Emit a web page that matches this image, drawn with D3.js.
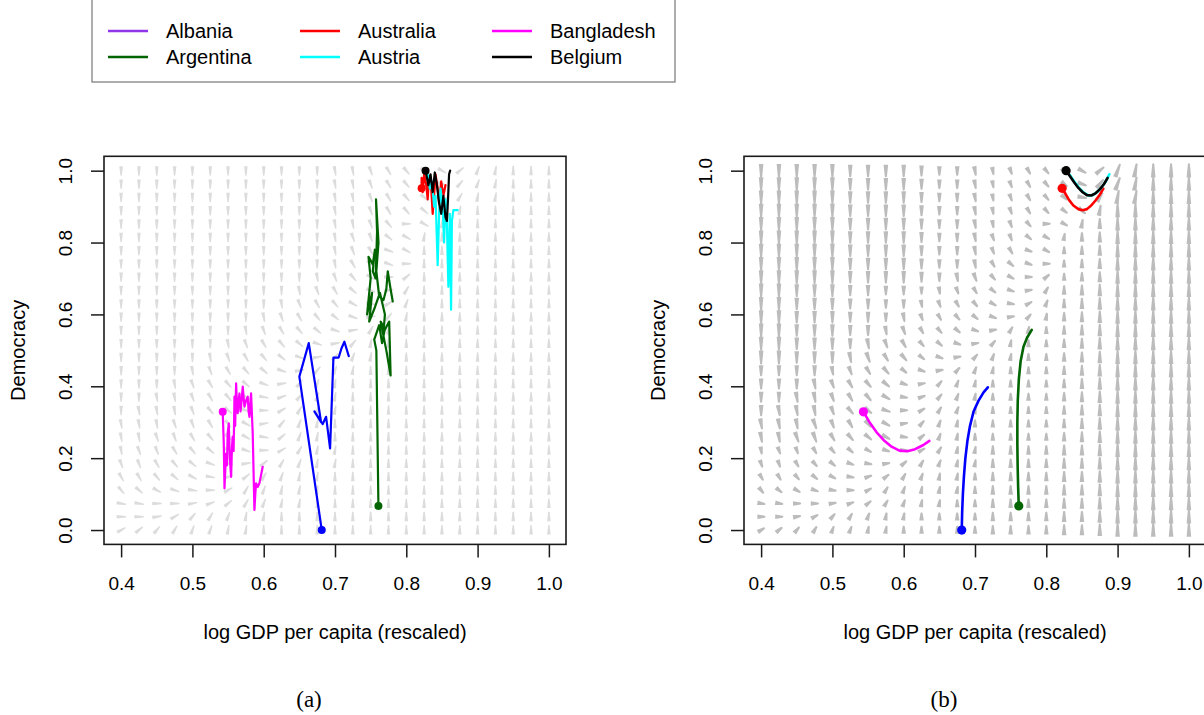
<!DOCTYPE html>
<html><head><meta charset="utf-8">
<script src="https://cdn.jsdelivr.net/npm/d3@7"></script>
<style>body{margin:0;background:#fff;} svg{display:block;} text{font-family:"Liberation Sans",Arial,sans-serif;fill:#000;}</style>
</head><body><svg id="chart" width="1204" height="715"></svg>
<script>
// ---------------- data ----------------
const countries = ["Albania","Argentina","Australia","Austria","Bangladesh","Belgium"];
const legendColors = ["#9035e8","#006400","#ff0000","#00ffff","#ff00ff","#000000"];
const lineColors = {Albania:"#0000ff",Argentina:"#006400",Australia:"#ff0000",Austria:"#00ffff",Bangladesh:"#ff00ff",Belgium:"#000000"};
const xTicks = [0.4,0.5,0.6,0.7,0.8,0.9,1.0];
const yTicks = [0.0,0.2,0.4,0.6,0.8,1.0];
const xTitle = "log GDP per capita (rescaled)";
const yTitle = "Democracy";
const captions = ["(a)","(b)"];

// vector field grid
const fieldX = [0.400,0.425,0.450,0.475,0.500,0.525,0.550,0.575,0.600,0.625,0.650,0.675,0.700,0.725,0.750,0.775,0.800,0.825,0.850,0.875,0.900,0.925,0.950,0.975,1.000];
const fieldY = [1.000,0.963,0.926,0.889,0.852,0.815,0.778,0.741,0.704,0.667,0.630,0.593,0.556,0.519,0.481,0.444,0.407,0.370,0.333,0.296,0.259,0.222,0.185,0.148,0.111,0.074,0.037,0.000];
// direction per cell, base-36 char = tens of degrees clockwise from up
const fieldAngle = [
"iiiiiiiiiiiihhgfedc521000",
"iiiiiiiiiiiihhgfedb421000",
"iiiiiiiiiiiihhgfeda311000",
"iiiiiiiiiiiihhgfedd100000",
"iiiiiiiiiiiihhge9c1000000",
"iiiiiiiiiiiihggdc10000000",
"iiiiiiiiiiiihgfbc00000000",
"iiiiiiiiiiiihfdb900000000",
"iiiiiiiiiiihgec9500000000",
"iiiiiiiiiihgfdb8300000000",
"iiiiiiiiihgfeca6200000000",
"iiiiiiiihgfedb84100000000",
"iiiiiiihgfedb831000000000",
"iiiiiihgfedb8410000000000",
"iiiiihgfedb84210000000000",
"iiiihgfedb842100000000000",
"iiihgfedb8421000000000000",
"iihhgfeca7421000000000000",
"ihhhgedb96321000000000000",
"hhhggfec842100000000000000",
"hhggfedca52100000000000000",
"hggfedcb963110000000000000",
"ggfedba8532110000000000000",
"ffedca75321100000000000000",
"edcba963211100000000000000",
"aa998753211000000000000000",
"99864321100000000000000000",
"65432211000000000000000000"
];
// arrow length class in panel (b)
const fieldLenB = [
"9999988887666555556799999","9999988887666555556799999","9999988887666555556799999",
"9999988887666555556799999","9999988887666555556799999","9999988887666555556799999",
"9999988887666555556799999","9999988887666555556799999","9999988887666555556799999",
"9988877665555555567899999","9988877665555555567899999","9988877665555555567899999",
"9988877665555555567899999","9988877665555555567899999","9988877665555555567899999",
"7777666655555555567899999","7777666655555555567899999","7777666655555555567899999",
"7777666655555555567899999","7777666655555555567899999","7777666655555555567899999",
"5555555555555666677899999","5555555555555666677899999","5555555555555666677899999",
"5555555555555666677899999","5555555555555666677899999","5555555555555666677899999",
"5555555555555666677899999"
];

// (a) observed trajectories
const obsAlbania = [[0.6814,0.0],[0.650,0.427],[0.6632,0.52],[0.6805,0.30],[0.6711,0.33],[0.6828,0.295],[0.6875,0.315],[0.6931,0.227],[0.6978,0.48],[0.7052,0.48],[0.709,0.505],[0.7132,0.524],[0.7193,0.484]];
const obsArgentina = [[0.7609,0.067],[0.7580,0.50],[0.7550,0.53],[0.7620,0.57],[0.7660,0.52],[0.7700,0.56],[0.7640,0.58],[0.7720,0.50],[0.7780,0.43],[0.7760,0.58],[0.7680,0.55],[0.7700,0.60],[0.7630,0.66],[0.7560,0.62],[0.7480,0.58],[0.7520,0.66],[0.7450,0.60],[0.7500,0.70],[0.7470,0.76],[0.7530,0.74],[0.7560,0.78],[0.7530,0.72],[0.7570,0.70],[0.7590,0.83],[0.7575,0.92],[0.7610,0.80],[0.7580,0.72],[0.7620,0.65],[0.7680,0.64],[0.7720,0.67],[0.7740,0.72],[0.7780,0.67],[0.7810,0.636]];
const obsAustralia = [[0.8215,0.951],[0.8215,0.98],[0.823,0.94],[0.825,0.99],[0.828,0.96],[0.830,0.92],[0.832,0.985],[0.835,0.95],[0.837,0.88],[0.839,0.93],[0.841,0.99],[0.844,0.95],[0.846,0.91],[0.849,0.97],[0.852,0.93],[0.855,0.96]];
const obsAustria = [[0.830,0.99],[0.833,0.95],[0.836,0.97],[0.839,0.90],[0.841,0.93],[0.844,0.737],[0.846,0.88],[0.848,0.95],[0.851,0.90],[0.853,0.80],[0.855,0.92],[0.857,0.85],[0.859,0.677],[0.861,0.88],[0.8628,0.613],[0.864,0.86],[0.866,0.89],[0.872,0.89]];
const obsBangladesh = [[0.5425,0.329],[0.5440,0.24],[0.5450,0.116],[0.5462,0.17],[0.5473,0.213],[0.5485,0.18],[0.5495,0.27],[0.5510,0.297],[0.5525,0.20],[0.5543,0.148],[0.5555,0.23],[0.5565,0.26],[0.5578,0.22],[0.5590,0.371],[0.5600,0.29],[0.5613,0.408],[0.5625,0.35],[0.5636,0.325],[0.5648,0.36],[0.5660,0.38],[0.5675,0.33],[0.5690,0.36],[0.5706,0.399],[0.5718,0.37],[0.5730,0.343],[0.5752,0.36],[0.5776,0.371],[0.5788,0.33],[0.5800,0.315],[0.5812,0.35],[0.5823,0.38],[0.5835,0.32],[0.5846,0.269],[0.5858,0.16],[0.5870,0.056],[0.5882,0.10],[0.5893,0.13],[0.5915,0.12],[0.5940,0.13],[0.5960,0.15],[0.5986,0.176]];
const obsBelgium = [[0.8270,1.0],[0.831,0.96],[0.834,0.99],[0.837,0.94],[0.840,0.995],[0.843,0.96],[0.846,0.91],[0.849,0.88],[0.852,0.93],[0.855,0.87],[0.857,0.86],[0.8585,0.92],[0.860,0.99],[0.8615,1.0]];

// (b) simulated trajectories
const simAlbania = [[0.6814,0.0],[0.6820,0.05],[0.6830,0.10],[0.6845,0.15],[0.6865,0.20],[0.6895,0.25],[0.693,0.29],[0.698,0.33],[0.705,0.36],[0.712,0.383],[0.718,0.397]];
const simArgentina = [[0.7614,0.067],[0.7605,0.12],[0.7598,0.18],[0.7594,0.24],[0.7594,0.30],[0.7600,0.36],[0.7615,0.42],[0.764,0.47],[0.768,0.51],[0.773,0.535],[0.7796,0.557]];
const simAustralia = [[0.8222,0.951],[0.827,0.935],[0.832,0.918],[0.838,0.903],[0.845,0.893],[0.851,0.89],[0.857,0.893],[0.863,0.903],[0.869,0.917],[0.875,0.933],[0.880,0.95]];
const simAustria = [[0.829,0.998],[0.835,0.982],[0.841,0.965],[0.847,0.95],[0.853,0.938],[0.859,0.931],[0.865,0.932],[0.871,0.94],[0.877,0.952],[0.883,0.969],[0.8885,0.99]];
const simBangladesh = [[0.5435,0.329],[0.552,0.30],[0.562,0.272],[0.572,0.25],[0.583,0.232],[0.594,0.221],[0.605,0.219],[0.616,0.225],[0.627,0.236],[0.636,0.248]];
const simBelgium = [[0.8278,1.0],[0.833,0.985],[0.839,0.968],[0.845,0.952],[0.851,0.94],[0.857,0.932],[0.863,0.931],[0.869,0.937],[0.875,0.948],[0.881,0.963],[0.886,0.98]];

// ---------------- drawing ----------------
const svg = d3.select("#chart");
svg.append("rect").attr("width",1204).attr("height",715).attr("fill","#fff");

const panels = [
  {left:104, right:566, caption:captions[0], capX:309,
   series:{Albania:obsAlbania,Argentina:obsArgentina,Australia:obsAustralia,Austria:obsAustria,Bangladesh:obsBangladesh,Belgium:obsBelgium},
   arrowColor:"#dcdcdc", lenFixed:9, wTail:3.6, wTip:1.4, lw:2.2, dotR:4},
  {left:744, right:1206, caption:captions[1], capX:944,
   series:{Albania:simAlbania,Argentina:simArgentina,Australia:simAustralia,Austria:simAustria,Bangladesh:simBangladesh,Belgium:simBelgium},
   arrowColor:"#bcbcbc", lenFixed:null, wTail:4.6, wTip:2.0, lw:2.6, dotR:4.6}
];
const plotTop = 156.3, plotBottom = 544.4;
const drawOrder = ["Bangladesh","Albania","Argentina","Australia","Austria","Belgium"];

panels.forEach(p => {
  const x = d3.scaleLinear().domain([0.376,1.024]).range([p.left,p.right]);
  const y = d3.scaleLinear().domain([-0.04,1.04]).range([plotBottom,plotTop]);
  const g = svg.append("g");

  // vector field
  const fg = g.append("g").attr("fill",p.arrowColor);
  fieldY.forEach((fy,r) => {
    fieldX.forEach((fx,c) => {
      const th = parseInt(fieldAngle[r][c],36)*10*Math.PI/180;
      const dx = Math.sin(th), dy = -Math.cos(th);
      const L = p.lenFixed!==null ? p.lenFixed : parseInt(fieldLenB[r][c],10)*1.5;
      const cx = x(fx), cy = y(fy);
      const tx = cx - dx*L/2, ty = cy - dy*L/2, hx = cx + dx*L/2, hy = cy + dy*L/2;
      const nx = -dy, ny = dx, w = p.wTail/2, wt = p.wTip/2;
      const pts = [[tx+nx*w,ty+ny*w],[hx+nx*wt,hy+ny*wt],[hx+dx*0.8,hy+dy*0.8],[hx-nx*wt,hy-ny*wt],[tx-nx*w,ty-ny*w]];
      fg.append("path").attr("d","M"+pts.map(q=>q[0].toFixed(2)+","+q[1].toFixed(2)).join("L")+"Z");
    });
  });

  // trajectories
  const line = d3.line().x(d=>x(d[0])).y(d=>y(d[1]));
  drawOrder.forEach(k => {
    g.append("path").datum(p.series[k]).attr("d",line).attr("fill","none")
     .attr("stroke",lineColors[k]).attr("stroke-width",p.lw).attr("stroke-linejoin","round").attr("stroke-linecap","round");
  });
  ["Bangladesh","Albania","Argentina","Australia","Belgium"].forEach(k => {
    const d0 = p.series[k][0];
    g.append("circle").attr("cx",x(d0[0])).attr("cy",y(d0[1])).attr("r",p.dotR).attr("fill",lineColors[k]);
  });

  // box
  g.append("rect").attr("x",p.left).attr("y",plotTop).attr("width",p.right-p.left).attr("height",plotBottom-plotTop)
   .attr("fill","none").attr("stroke","#1a1a1a").attr("stroke-width",1.6);

  // axes
  const ax = g.append("g").attr("transform",`translate(0,${plotBottom})`)
    .call(d3.axisBottom(x).tickValues(xTicks).tickFormat(d3.format(".1f")).tickSize(13).tickSizeOuter(0));
  ax.select(".domain").remove();
  ax.selectAll("line").attr("stroke","#1a1a1a").attr("stroke-width",1.5);
  ax.selectAll("text").attr("y",null).attr("dy",null).attr("transform","translate(0,39)")
    .attr("dominant-baseline","central").style("font-size","19px").style("font-family","Liberation Sans, Arial, sans-serif");

  const ay = g.append("g").attr("transform",`translate(${p.left},0)`)
    .call(d3.axisLeft(y).tickValues(yTicks).tickFormat(d3.format(".1f")).tickSize(13).tickSizeOuter(0));
  ay.select(".domain").remove();
  ay.selectAll("line").attr("stroke","#1a1a1a").attr("stroke-width",1.5);
  ay.selectAll("text").attr("x",null).attr("dy",null).attr("text-anchor","middle")
    .attr("dominant-baseline","central").attr("transform","translate(-39,0) rotate(-90)")
    .style("font-size","19px").style("font-family","Liberation Sans, Arial, sans-serif");

  g.append("text").attr("x",(p.left+p.right)/2).attr("y",632).attr("text-anchor","middle")
   .attr("dominant-baseline","central").style("font-size","20px").text(xTitle);
  g.append("text").attr("transform",`translate(${p.left-86},${(plotTop+plotBottom)/2}) rotate(-90)`)
   .attr("text-anchor","middle").attr("dominant-baseline","central").style("font-size","20px").text(yTitle);
  g.append("text").attr("x",p.capX).attr("y",699).attr("text-anchor","middle").attr("dominant-baseline","central")
   .style("font-family","Liberation Serif, Times New Roman, serif").style("font-size","23px").text(p.caption);
});

// legend
const lg = svg.append("g");
lg.append("rect").attr("x",92).attr("y",-10).attr("width",583).attr("height",92)
  .attr("fill","#fff").attr("stroke","#777").attr("stroke-width",1.2);
const colX = [108,300,492], rowY = [31,57];
countries.forEach((c,i) => {
  const col = Math.floor(i/2), row = i%2;
  lg.append("line").attr("x1",colX[col]).attr("x2",colX[col]+40).attr("y1",rowY[row]).attr("y2",rowY[row])
    .attr("stroke",legendColors[i]).attr("stroke-width",2.6);
  lg.append("text").attr("x",colX[col]+58).attr("y",rowY[row]).attr("dominant-baseline","central")
    .style("font-size","20px").text(c);
});
</script></body></html>
